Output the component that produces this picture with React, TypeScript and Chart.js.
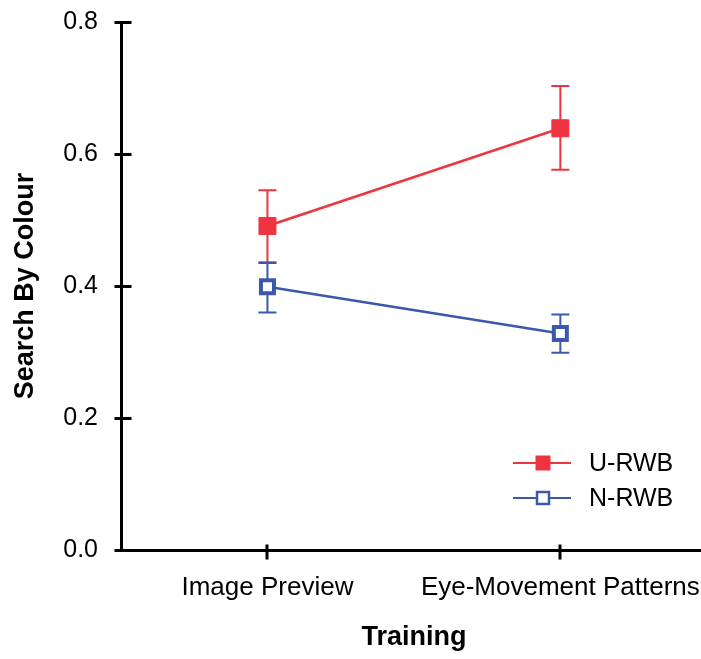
import React, { useEffect, useRef } from 'react';
import { Chart, registerables } from 'chart.js';

Chart.register(...registerables);

const categories = ['Image Preview', 'Eye-Movement Patterns'];
const seriesNames = ['U-RWB', 'N-RWB'];
const uRwbMean = [0.491, 0.639];
const uRwbHigh = [0.545, 0.703];
const uRwbLow = [0.436, 0.576];
const nRwbMean = [0.399, 0.328];
const nRwbHigh = [0.435, 0.357];
const nRwbLow = [0.36, 0.299];
const yMin = 0;
const yMax = 0.8;
const yStep = 0.2;

const RED = '#EE3440';
const BLUE = '#3C58AA';
const FONT = "'Liberation Sans', Arial, sans-serif";

const errorBarPlugin = {
  id: 'errorBars',
  beforeDatasetsDraw(chart: any) {
    const ctx = chart.ctx;
    const yScale = chart.scales.y;
    chart.data.datasets.forEach((ds: any, i: number) => {
      const meta = chart.getDatasetMeta(i);
      ctx.save();
      ctx.strokeStyle = ds.borderColor;
      ctx.lineWidth = 2;
      meta.data.forEach((pt: any, j: number) => {
        const x = pt.x;
        const yh = yScale.getPixelForValue(ds.errHigh[j]);
        const yl = yScale.getPixelForValue(ds.errLow[j]);
        ctx.beginPath();
        ctx.moveTo(x, yh);
        ctx.lineTo(x, yl);
        ctx.moveTo(x - 9, yh);
        ctx.lineTo(x + 9, yh);
        ctx.moveTo(x - 9, yl);
        ctx.lineTo(x + 9, yl);
        ctx.stroke();
      });
      ctx.restore();
    });
  },
};

const axisTickPlugin = {
  id: 'axisTicks',
  afterDraw(chart: any) {
    const ctx = chart.ctx;
    const xs = chart.scales.x;
    const ys = chart.scales.y;
    const ax = chart.chartArea.left + 0.5;
    const ay = chart.chartArea.bottom + 0.5;
    ctx.save();
    ctx.strokeStyle = '#000';
    ctx.lineWidth = 3;
    ys.ticks.forEach((t: any) => {
      const py = Math.round(ys.getPixelForValue(t.value)) + 0.5;
      ctx.beginPath();
      ctx.moveTo(ax - 7, py);
      ctx.lineTo(ax + 10, py);
      ctx.stroke();
    });
    xs.ticks.forEach((t: any, i: number) => {
      const px = Math.round(xs.getPixelForTick(i));
      ctx.beginPath();
      ctx.moveTo(px, ay - 6);
      ctx.lineTo(px, ay + 9);
      ctx.stroke();
    });
    ctx.restore();
  },
};

const legendPlugin = {
  id: 'customLegend',
  afterDraw(chart: any) {
    const ctx = chart.ctx;
    const rows = [463, 498];
    ctx.save();
    chart.data.datasets.forEach((ds: any, i: number) => {
      const y = rows[i];
      ctx.strokeStyle = ds.borderColor;
      ctx.lineWidth = 2;
      ctx.beginPath();
      ctx.moveTo(513, y);
      ctx.lineTo(571, y);
      ctx.stroke();
      if (i === 0) {
        ctx.fillStyle = ds.borderColor;
        ctx.fillRect(535.5, y - 7.5, 15, 15);
      } else {
        ctx.fillStyle = '#fff';
        ctx.fillRect(537, y - 6, 12, 12);
        ctx.lineWidth = 2.5;
        ctx.strokeRect(537, y - 6, 12, 12);
      }
      ctx.fillStyle = '#000';
      ctx.font = `25px ${FONT}`;
      ctx.textBaseline = 'middle';
      ctx.textAlign = 'left';
      ctx.fillText(ds.label, 589, y + 1);
    });
    ctx.restore();
  },
};

export default function App() {
  const ref = useRef<HTMLCanvasElement | null>(null);

  useEffect(() => {
    if (!ref.current) return;
    const chart = new Chart(ref.current, {
      type: 'line',
      data: {
        labels: categories,
        datasets: [
          {
            label: seriesNames[0],
            data: uRwbMean,
            errHigh: uRwbHigh,
            errLow: uRwbLow,
            borderColor: RED,
            backgroundColor: RED,
            borderWidth: 2.5,
            pointStyle: 'rect',
            pointRadius: 12,
            pointBorderWidth: 1,
            pointBackgroundColor: RED,
            pointBorderColor: RED,
          } as any,
          {
            label: seriesNames[1],
            data: nRwbMean,
            errHigh: nRwbHigh,
            errLow: nRwbLow,
            borderColor: BLUE,
            backgroundColor: BLUE,
            borderWidth: 2.5,
            pointStyle: 'rect',
            pointRadius: 9.2,
            pointBorderWidth: 4,
            pointBackgroundColor: '#fff',
            pointBorderColor: BLUE,
          } as any,
        ],
      },
      options: {
        animation: false,
        responsive: false,
        devicePixelRatio: 1,
        layout: { padding: { top: 22, right: 12, left: 0, bottom: 0 } },
        plugins: {
          legend: { display: false },
          tooltip: { enabled: false },
          title: { display: false },
        },
        scales: {
          x: {
            type: 'category',
            offset: true,
            grid: { display: false, drawTicks: false },
            border: { display: true, color: '#000', width: 3 },
            ticks: {
              color: '#000',
              font: { family: FONT, size: 26 },
              padding: 22,
              maxRotation: 0,
              minRotation: 0,
              autoSkip: false,
            },
            title: {
              display: true,
              text: 'Training',
              color: '#000',
              font: { family: FONT, size: 27, weight: 'bold' },
              padding: { top: 0, bottom: 5 },
            },
            afterFit(s: any) {
              s.height = 109;
              s.paddingLeft = 0;
              s.paddingRight = 0;
            },
          },
          y: {
            min: yMin,
            max: yMax,
            grid: { display: false, drawTicks: false },
            border: { display: true, color: '#000', width: 3 },
            ticks: {
              stepSize: yStep,
              color: '#000',
              font: { family: FONT, size: 25 },
              padding: 23,
              callback: (v: any) => Number(v).toFixed(1),
            },
            title: {
              display: true,
              text: 'Search By Colour',
              color: '#000',
              font: { family: FONT, size: 27, weight: 'bold' },
              padding: { top: 9, bottom: 0 },
            },
            afterFit(s: any) {
              s.width = 121;
              s.paddingTop = 0;
              s.paddingBottom = 0;
            },
          },
        },
      } as any,
      plugins: [errorBarPlugin, axisTickPlugin, legendPlugin],
    });
    return () => chart.destroy();
  }, []);

  return (
    <div
      style={{
        position: 'fixed',
        left: 0,
        top: 0,
        width: 701,
        height: 659,
        overflow: 'hidden',
        background: '#fff',
      }}
    >
      <canvas ref={ref} width={720} height={659} style={{ display: 'block', width: 720, height: 659 }} />
    </div>
  );
}
